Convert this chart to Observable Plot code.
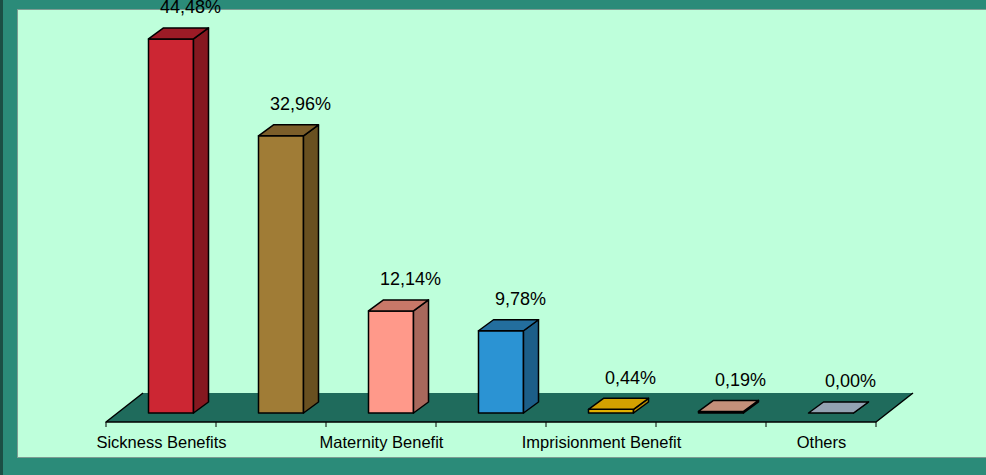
<!DOCTYPE html>
<html>
<head>
<meta charset="utf-8">
<script src="https://cdn.jsdelivr.net/npm/d3@7"></script>
<script src="https://cdn.jsdelivr.net/npm/@observablehq/plot@0.6"></script>
<style>
  html, body { margin: 0; padding: 0; }
  body { width: 986px; height: 475px; overflow: hidden; position: relative; background: #2B8B79; }
  #edge { position: absolute; left: 0; top: 0; width: 3px; height: 475px; background: #1B4F45; }
  #panel { position: absolute; left: 17px; top: 9px; width: 970px; height: 447px; background: #BEFFDB;
           border-top: 1px solid #7E9C93; border-left: 1px solid #7E9C93; border-bottom: 1px solid #7E9C93; }
  #chart { position: absolute; left: 0; top: 0; }
  #chart svg { overflow: visible; }
</style>
</head>
<body>
<div id="edge"></div>
<div id="panel"></div>
<div id="chart"></div>
<script>
// ---- data ----
const categories = ["Sickness Benefits", "Disability Benefit", "Maternity Benefit", "Accident Benefit", "Imprisionment Benefit", "Family Allowance", "Others"];
const values = [44.48, 32.96, 12.14, 9.78, 0.44, 0.19, 0.00];
const valueLabels = ["44,48%", "32,96%", "12,14%", "9,78%", "0,44%", "0,19%", "0,00%"];
const shownTickLabels = ["Sickness Benefits", "Maternity Benefit", "Imprisionment Benefit", "Others"];

// ---- styles ----
const frontColors = ["#CC2633", "#A07C36", "#FF998A", "#2B93D3", "#E2B000", "#C9957D", "#97A6B5"];
const topColors   = ["#9C1B26", "#7C5E2A", "#C87868", "#236E9E", "#D3A000", "#C4907A", "#93A2B2"];
const sideColors  = ["#861820", "#695020", "#A8685C", "#1C5E88", "#B88C00", "#A87A66", "#7D8C9A"];

const data = categories.map((c, i) => ({cat: c, value: values[i], label: valueLabels[i], i}));

// 3D geometry (pixels)
const BAR_FRAC = 45 / 110;
const SHIFT = [10, -9];     // bar front face offset into floor
const DEPTH = [15, -11];    // bar depth
const FLOOR = [37, -29];    // floor depth
const NS = "http://www.w3.org/2000/svg";

function el(tag, attrs) {
  const e = document.createElementNS(NS, tag);
  for (const k in attrs) e.setAttribute(k, attrs[k]);
  return e;
}
function poly(pts) { return pts.map(p => p.join(",")).join(" "); }

// floor + ticks
function floorMark(index, scales) {
  const {x, y} = scales;
  const bw = x.bandwidth();
  const x0 = x(categories[0]);
  const x1 = x(categories[categories.length - 1]) + bw;
  const y0 = y(0);
  const g = el("g", {});
  g.appendChild(el("polygon", {
    points: poly([[x0, y0], [x1, y0], [x1 + FLOOR[0], y0 + FLOOR[1]], [x0 + FLOOR[0], y0 + FLOOR[1]]]),
    fill: "#1F6B5C", stroke: "none"
  }));
  g.appendChild(el("polyline", {
    points: poly([[x0 + FLOOR[0], y0 + FLOOR[1]], [x0, y0], [x1, y0], [x1 + FLOOR[0], y0 + FLOOR[1]]]),
    fill: "none", stroke: "#000", "stroke-width": 1.5, "stroke-linejoin": "round"
  }));
  const bounds = categories.map(c => x(c)).concat([x1]);
  for (const bx of bounds) {
    g.appendChild(el("line", {x1: bx, x2: bx, y1: y0, y2: y0 + 5, stroke: "#000", "stroke-width": 1}));
  }
  return g;
}

// top and side faces of each bar
function barFaces(index, scales) {
  const {x, y} = scales;
  const bw = x.bandwidth();
  const w = bw * BAR_FRAC;
  const g = el("g", {});
  data.forEach((d, i) => {
    const left = x(d.cat) + (bw - w) / 2 + SHIFT[0];
    const right = left + w;
    const top = y(d.value) + SHIFT[1];
    const base = y(0) + SHIFT[1];
    g.appendChild(el("polygon", {
      points: poly([[right, top], [right + DEPTH[0], top + DEPTH[1]], [right + DEPTH[0], base + DEPTH[1]], [right, base]]),
      fill: sideColors[i], stroke: "#000", "stroke-width": 1.5, "stroke-linejoin": "round"
    }));
    g.appendChild(el("polygon", {
      points: poly([[left, top], [right, top], [right + DEPTH[0], top + DEPTH[1]], [left + DEPTH[0], top + DEPTH[1]]]),
      fill: topColors[i], stroke: "#000", "stroke-width": 1.5, "stroke-linejoin": "round"
    }));
  });
  return g;
}

const insetSide = 110 * (1 - BAR_FRAC) / 2;

const chart = Plot.plot({
  width: 986,
  height: 475,
  marginLeft: 105,
  marginRight: 110,
  marginTop: 43.6,
  marginBottom: 53,
  style: {background: "transparent", fontFamily: "'Liberation Sans', Arial, sans-serif", color: "#000"},
  x: {type: "band", domain: categories, padding: 0, axis: null, label: null},
  y: {domain: [0, 45], axis: null},
  color: {type: "identity"},
  marks: [
    floorMark,
    Plot.barY(data, {
      x: "cat", y: "value",
      fill: d => frontColors[d.i],
      stroke: "#000", strokeWidth: 1.5, strokeLinejoin: "round",
      insetLeft: insetSide, insetRight: insetSide,
      dx: SHIFT[0], dy: SHIFT[1]
    }),
    barFaces,
    Plot.text(data, {
      x: "cat", y: "value", text: "label",
      dx: SHIFT[0] + 19, dy: SHIFT[1] - 32,
      fontSize: 18, fill: "#000"
    }),
    Plot.axisX({
      tickSize: 0, tickPadding: 13.5, fontSize: 16.5, label: null,
      tickFormat: d => shownTickLabels.includes(d) ? d : ""
    })
  ]
});
document.getElementById("chart").appendChild(chart);
</script>
</body>
</html>
